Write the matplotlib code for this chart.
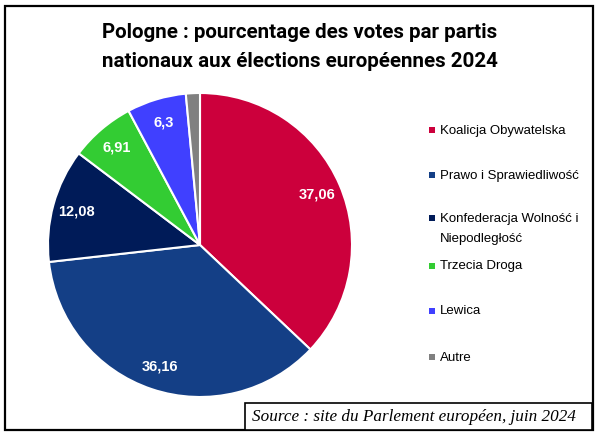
import matplotlib.pyplot as plt
from matplotlib.patches import Rectangle

# données
partis = [
    "Koalicja Obywatelska",
    "Prawo i Sprawiedliwość",
    "Konfederacja Wolność i\nNiepodległość",
    "Trzecia Droga",
    "Lewica",
    "Autre",
]
pourcentages = [37.06, 36.16, 12.08, 6.91, 6.3, 1.49]
etiquettes = ["37,06", "36,16", "12,08", "6,91", "6,3", ""]
couleurs = ["#CC003C", "#143F86", "#001B58", "#33CC33", "#4040FF", "#808080"]

# position verticale (pixels depuis le haut) de la 1re ligne de chaque entrée
legende_y = [130, 175, 218, 266, 311, 357]

W, H = 600, 436
fig = plt.figure(figsize=(W / 100, H / 100), dpi=100)

# cadre extérieur
fig.patches.append(Rectangle((0.008, 0.014), 0.981, 0.973, transform=fig.transFigure,
                             fill=False, edgecolor="black", linewidth=1.6))

fig.text(0.5, 0.892, "Pologne : pourcentage des votes par partis\nnationaux aux élections européennes 2024",
         ha="center", va="center", fontsize=14.8, fontweight="bold",
         family=["Liberation Sans Narrow", "DejaVu Sans Condensed", "Roboto"],
         linespacing=1.68)

# camembert : centre (200, 245) px, rayon 152 px
ax = fig.add_axes([(200 - 152) / W, (H - 245 - 152) / H, 304 / W, 304 / H])
wedges, textes = ax.pie(
    pourcentages,
    colors=couleurs,
    labels=etiquettes,
    labeldistance=0.84,
    startangle=90,
    counterclock=False,
    wedgeprops=dict(edgecolor="white", linewidth=1.5),
    textprops=dict(color="white", fontweight="bold", fontsize=10.5, family="Liberation Sans"),
)
for t in textes:
    t.set_horizontalalignment("center")
    t.set_verticalalignment("center")
ax.set_xlim(-1, 1)
ax.set_ylim(-1, 1)
ax.set_aspect("equal")

# légende
for nom, coul, y in zip(partis, couleurs, legende_y):
    fy = 1 - y / H
    fig.patches.append(Rectangle((429 / W, fy - 3 / H), 6 / W, 6 / H,
                                 transform=fig.transFigure, facecolor=coul, edgecolor="none"))
    fig.text(440 / W, fy + 5.5 / H, nom, ha="left", va="top", fontsize=9.5,
             family="Liberation Sans", linespacing=1.9)

# encadré source
fig.patches.append(Rectangle((0.408, 0.013), 0.578, 0.063, transform=fig.transFigure,
                             facecolor="white", edgecolor="black", linewidth=1.2))
fig.text(0.42, 0.044, "Source : site du Parlement européen, juin 2024",
         ha="left", va="center", fontsize=12.3, style="italic", family="Liberation Serif")

fig.savefig("out.png", dpi=100)
